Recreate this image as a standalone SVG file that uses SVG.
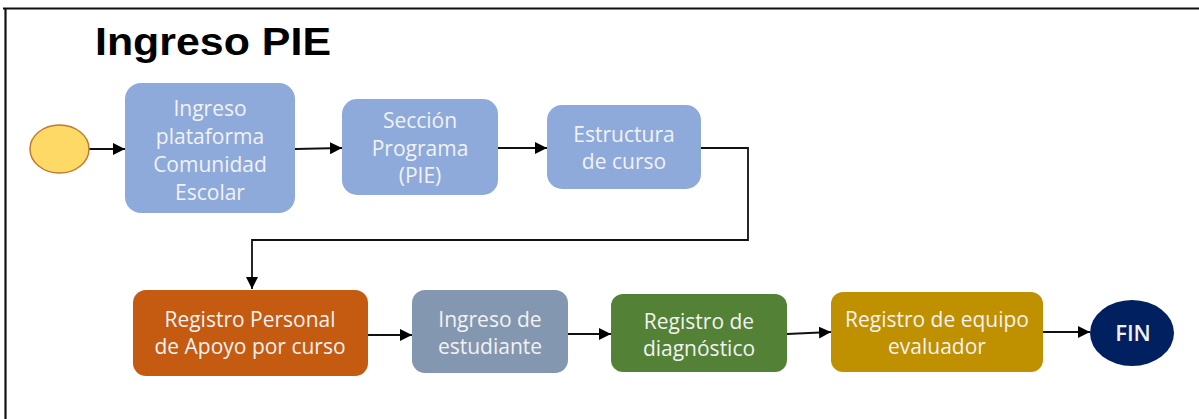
<svg xmlns="http://www.w3.org/2000/svg" width="1199" height="419" viewBox="0 0 1199 419">
<style>
.t{font-family:"Open Sans","Liberation Sans",sans-serif;font-size:21px;fill:#f2f2f2;text-anchor:middle}
.c{fill:none;stroke:#111;stroke-width:1.8}
.title{font-family:"Liberation Sans",Arial,sans-serif;font-weight:bold;font-size:39px;fill:#000}
</style>
<defs>
<marker id="ah" viewBox="0 0 10 10" refX="10" refY="5" markerWidth="12" markerHeight="12" markerUnits="userSpaceOnUse" orient="auto">
<path d="M0,0 L10,5 L0,10 z" fill="#000"/>
</marker>
</defs>
<rect width="1199" height="419" fill="#fff"/>
<g id="frame" fill="none" stroke="#111" stroke-width="2.2">
<path d="M3,8.5 H1199"/>
<path d="M5.5,8 V419"/>
</g>
<text class="title" x="95" y="55" textLength="236" lengthAdjust="spacingAndGlyphs">Ingreso PIE</text>
<g id="connectors">
<path class="c" d="M89,149 H125" marker-end="url(#ah)"/>
<path class="c" d="M295,149 L342,148" marker-end="url(#ah)"/>
<path class="c" d="M498,148 H547" marker-end="url(#ah)"/>
<path class="c" d="M701,148 H748 V240 H252 V289" marker-end="url(#ah)"/>
<path class="c" d="M368,335 H412" marker-end="url(#ah)"/>
<path class="c" d="M568,334 H611" marker-end="url(#ah)"/>
<path class="c" d="M787,334 L831,332" marker-end="url(#ah)"/>
<path class="c" d="M1043,332 H1090" marker-end="url(#ah)"/>
</g>
<g id="start"><ellipse cx="59.5" cy="149" rx="29.5" ry="24" fill="#ffd966" stroke="#c07b30" stroke-width="1.5"/></g>
<g id="n1"><rect x="125" y="83" width="170" height="130" rx="16" fill="#8eaadb"/>
<text class="t" x="210" y="116">Ingreso</text><text class="t" x="210" y="144">plataforma</text><text class="t" x="210" y="172">Comunidad</text><text class="t" x="210" y="200">Escolar</text></g>
<g id="n2"><rect x="342" y="99" width="156" height="96" rx="15" fill="#8eaadb"/>
<text class="t" x="420" y="128">Sección</text><text class="t" x="420" y="156">Programa</text><text class="t" x="420" y="183">(PIE)</text></g>
<g id="n3"><rect x="547" y="105" width="154" height="84" rx="15" fill="#8eaadb"/>
<text class="t" x="624" y="142">Estructura</text><text class="t" x="624" y="169">de curso</text></g>
<g id="n4"><rect x="133" y="290" width="235" height="86" rx="13" fill="#c55a11"/>
<text class="t" x="250" y="327">Registro Personal</text><text class="t" x="250" y="354">de Apoyo por curso</text></g>
<g id="n5"><rect x="412" y="290" width="156" height="83" rx="13" fill="#8497b0"/>
<text class="t" x="490" y="327">Ingreso de</text><text class="t" x="490" y="354">estudiante</text></g>
<g id="n6"><rect x="611" y="294" width="176" height="78" rx="12" fill="#538135"/>
<text class="t" x="699" y="329">Registro de</text><text class="t" x="699" y="356">diagnóstico</text></g>
<g id="n7"><rect x="831" y="292" width="212" height="80" rx="12" fill="#bf9000"/>
<text class="t" x="937" y="327">Registro de equipo</text><text class="t" x="937" y="354">evaluador</text></g>
<g id="fin"><ellipse cx="1132" cy="333" rx="42" ry="33" fill="#002060"/>
<text class="t" x="1133" y="341" style="font-weight:600;font-size:22px">FIN</text></g>
</svg>
